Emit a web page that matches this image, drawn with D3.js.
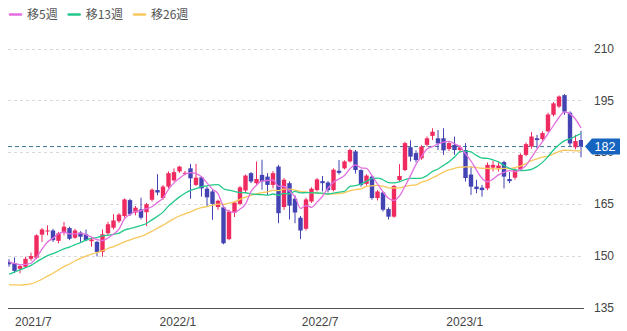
<!DOCTYPE html>
<html>
<head>
<meta charset="utf-8">
<script src="https://cdn.jsdelivr.net/npm/d3@7"></script>
<style>
  html, body { margin: 0; padding: 0; background: #fff; }
  svg { display: block; font-family: "Liberation Sans", Arial, "Noto Sans CJK JP", sans-serif; }
</style>
</head>
<body>
<svg id="chart" width="627" height="331"></svg>
<script>
// Weekly candles, first week starting Monday 2021-05-31
const firstWeek = new Date(2021, 4, 31);

const open = [148.2,147.8,146.2,146.8,149.1,149.4,156.1,157.0,157.3,154.3,
  156.7,158.0,155.2,156.7,156.2,154.2,154.0,151.1,156.5,158.1,
  160.0,161.5,166.1,162.5,163.4,162.6,166.2,169.0,166.7,170.0,
  171.8,174.4,173.7,175.3,170.5,172.7,169.4,168.6,164.1,164.0,
  154.8,162.5,165.0,168.9,173.9,171.0,173.4,172.9,170.5,175.8,
  164.1,171.0,166.5,161.0,157.8,165.7,169.0,171.6,171.2,169.0,
  174.6,175.3,177.3,180.2,174.8,170.8,172.9,166.7,168.3,163.5,
  161.3,171.9,174.8,181.4,179.7,178.2,182.1,184.7,184.0,184.0,
  180.9,182.1,180.6,180.6,173.5,170.0,169.7,169.5,175.5,175.3,
  177.1,172.2,172.6,175.0,179.2,181.6,184.0,183.8,186.0,190.8,
  193.2,196.5,191.4,181.4,183.5];

const high = [149.0,149.5,147.5,149.7,150.9,156.2,158.0,158.8,157.8,156.9,
  159.8,158.4,157.8,157.1,157.6,155.5,154.3,157.6,159.8,162.0,
  162.3,166.6,166.5,164.4,166.8,165.3,169.5,173.6,170.5,174.4,
  175.3,176.0,174.5,176.6,176.6,173.0,170.0,169.0,166.2,164.5,
  163.3,165.8,170.2,173.5,174.2,177.3,177.8,173.9,174.5,176.3,
  172.5,171.5,167.5,161.5,166.8,169.8,172.5,173.1,171.6,175.3,
  177.7,177.6,181.0,180.6,175.0,173.6,173.2,169.0,168.6,164.0,
  170.5,176.5,183.0,183.4,180.5,182.0,184.5,186.9,186.4,186.9,
  183.2,184.5,182.0,182.6,175.8,172.0,170.5,177.0,177.5,177.0,
  177.5,174.2,175.3,179.6,182.8,185.8,185.0,186.0,191.4,194.5,
  196.4,196.8,191.8,185.0,186.2];

const low = [146.8,145.0,144.9,146.5,148.5,149.0,154.0,155.9,154.0,153.6,
  155.9,154.5,154.9,154.0,154.2,152.6,149.8,149.7,155.9,157.6,
  159.5,161.0,161.5,161.7,160.5,158.6,165.7,167.5,166.2,169.5,
  171.5,174.0,173.3,166.5,170.2,167.1,164.4,160.4,163.3,153.3,
  154.5,161.2,164.6,168.3,171.0,170.5,169.1,167.6,169.5,159.4,
  163.3,160.5,159.4,154.8,157.3,165.3,168.6,168.6,168.3,168.6,
  173.5,175.0,177.0,173.8,170.0,170.3,166.2,166.0,162.8,160.5,
  161.0,171.5,174.5,177.3,177.0,177.8,181.6,183.5,180.6,179.2,
  180.3,179.2,179.8,171.5,167.6,168.1,167.1,169.0,174.4,174.4,
  169.5,171.0,172.0,174.8,178.8,181.0,181.1,183.3,185.8,190.3,
  192.8,190.8,181.6,180.8,178.5];

const close = [147.5,145.6,147.0,149.1,149.9,155.9,157.6,157.3,154.5,156.5,
  158.4,154.9,157.3,155.5,154.5,154.7,151.1,156.2,159.1,160.2,
  161.9,166.3,162.0,163.9,161.0,164.9,169.1,168.3,170.0,173.9,
  174.2,175.8,174.0,172.4,172.6,169.5,166.9,165.0,165.9,153.6,
  162.8,165.4,169.8,173.2,171.5,172.2,171.5,170.5,173.9,162.3,
  172.0,164.5,162.5,157.3,166.3,169.4,172.1,171.0,169.0,174.9,
  174.0,177.3,180.6,174.8,170.5,173.2,166.7,168.6,163.3,161.3,
  170.2,173.1,182.6,178.7,177.7,181.6,184.0,185.9,182.5,180.5,
  182.6,180.6,181.4,172.5,170.0,169.3,169.0,176.3,176.3,176.1,
  172.9,171.6,174.8,179.2,182.3,184.5,183.5,185.5,190.9,194.1,
  196.1,191.7,182.5,183.2,181.6];

// Closes of the 25 weeks before the first candle (feed the moving averages only)
const priorCloses = [147.0,148.2,146.0,144.8,
  140.5,137.2,134.0,132.5,131.8,133.6,135.2,134.5,136.0,
  137.5,139.0,140.6,141.2,
  143.0,145.2,146.0,146.8,
  147.8,149.0,148.5,148.2];

const maPeriods = [5, 13, 26];
const maNames = ["移5週", "移13週", "移26週"];
const maColors = ["#e46fe0", "#22c98a", "#f7c85c"];

const yTicks = [135, 150, 165, 180, 195, 210];

const upColor = "#ef2a5e";
const downColor = "#4343b4";

// ---- layout ----
const W = 627, H = 331;
const plotLeft = 8, plotRight = 583;
const svg = d3.select("#chart");

const dates = close.map((_, i) => d3.timeWeek.offset(firstWeek, i));
const x = d3.scaleTime()
  .domain([dates[0], dates[dates.length - 1]])
  .range([9, 581]);
const y = d3.scaleLinear().domain([135, 210]).range([307.5, 48.5]);

// grid lines
svg.append("g").selectAll("line")
  .data(yTicks.filter(t => t > 135))
  .join("line")
  .attr("x1", plotLeft).attr("x2", 582)
  .attr("y1", d => Math.round(y(d)) + 0.5).attr("y2", d => Math.round(y(d)) + 0.5)
  .attr("stroke", "#d9d9d9").attr("stroke-dasharray", "3,3");

// baseline
svg.append("line")
  .attr("x1", plotLeft).attr("x2", 584)
  .attr("y1", Math.round(y(135)) + 0.5).attr("y2", Math.round(y(135)) + 0.5)
  .attr("stroke", "#555");

// y labels
svg.append("g").selectAll("text")
  .data(yTicks)
  .join("text")
  .attr("x", 594)
  .attr("y", d => y(d))
  .attr("dy", "0.35em")
  .attr("font-size", 12)
  .attr("fill", "#444")
  .text(d => d);

// x labels (half-yearly)
const xTicks = x.ticks(d3.timeMonth.every(6));
svg.append("g").selectAll("text")
  .data(xTicks)
  .join("text")
  .attr("x", d => x(d))
  .attr("y", 325.5)
  .attr("text-anchor", "middle")
  .attr("font-size", 12)
  .attr("fill", "#444")
  .text(d => d3.timeFormat("%Y/%-m")(d));

// plot clip
svg.append("clipPath").attr("id", "plotClip")
  .append("rect").attr("x", plotLeft).attr("y", 30).attr("width", plotRight - plotLeft).attr("height", 280);

const plot = svg.append("g").attr("clip-path", "url(#plotClip)");

// last-price line
const last = close[close.length - 1];
plot.append("line")
  .attr("x1", plotLeft).attr("x2", plotRight)
  .attr("y1", y(last)).attr("y2", y(last))
  .attr("stroke", "#3a7895").attr("stroke-width", 1)
  .attr("stroke-dasharray", "4,3");

// candles
const candles = close.map((c, i) => ({
  date: dates[i], o: open[i], h: high[i], l: low[i], c: c
}));
const bodyW = 4.4;

const cg = plot.append("g").selectAll("g")
  .data(candles)
  .join("g")
  .attr("fill", d => d.c >= d.o ? upColor : downColor)
  .attr("stroke", d => d.c >= d.o ? upColor : downColor);

cg.append("line")
  .attr("x1", d => x(d.date)).attr("x2", d => x(d.date))
  .attr("y1", d => y(d.h)).attr("y2", d => y(d.l))
  .attr("stroke-width", 1);

cg.append("rect")
  .attr("stroke", "none")
  .attr("x", d => x(d.date) - bodyW / 2)
  .attr("width", bodyW)
  .attr("y", d => y(Math.max(d.o, d.c)))
  .attr("height", d => Math.max(1, Math.abs(y(d.o) - y(d.c))));

// moving averages
const allCloses = priorCloses.concat(close);
function sma(n) {
  return close.map((_, i) => {
    const end = priorCloses.length + i + 1;
    return d3.mean(allCloses.slice(end - n, end));
  });
}
const line = d3.line()
  .x((d, i) => x(dates[i]))
  .y(d => y(d))
  .curve(d3.curveMonotoneX);

[2, 1, 0].forEach(k => {
  plot.append("path")
    .datum(sma(maPeriods[k]))
    .attr("fill", "none")
    .attr("stroke", maColors[k])
    .attr("stroke-width", 1.3)
    .attr("d", line);
});

// last-price tag
const ty = y(last);
svg.append("path")
  .attr("d", `M585,${ty} L592,${ty - 8} L620,${ty - 8} L620,${ty + 8} L592,${ty + 8} Z`)
  .attr("fill", "#1565c0");
svg.append("text")
  .attr("x", 605).attr("y", ty).attr("dy", "0.36em")
  .attr("text-anchor", "middle")
  .attr("font-size", 12.5)
  .attr("fill", "#fff")
  .text(d3.format(".0f")(last));

// legend
const legend = svg.append("g").attr("font-family", "'Noto Sans CJK JP', sans-serif");
let lx = 10;
maNames.forEach((name, k) => {
  legend.append("line")
    .attr("x1", lx).attr("x2", lx + 11)
    .attr("y1", 14.5).attr("y2", 14.5)
    .attr("stroke", maColors[k]).attr("stroke-width", 2.6)
    .attr("stroke-linecap", "round");
  const t = legend.append("text")
    .attr("x", lx + 17).attr("y", 19)
    .attr("font-size", 12)
    .attr("fill", "#555")
    .text(name);
  lx += 17 + t.node().getComputedTextLength() + 11;
});
</script>
</body>
</html>
